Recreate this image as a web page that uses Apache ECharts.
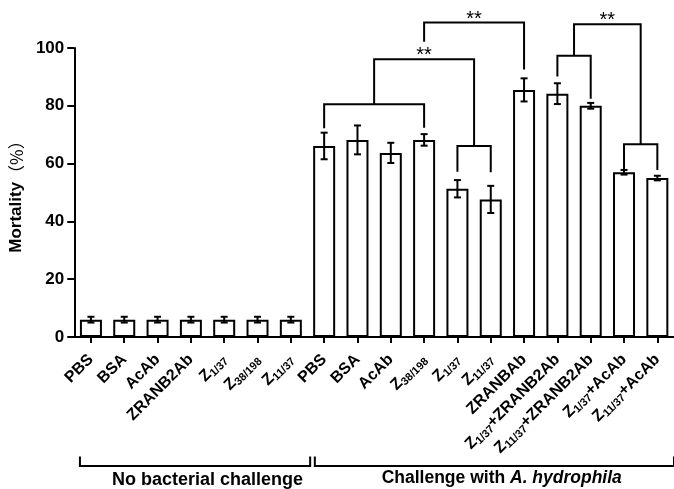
<!DOCTYPE html>
<html><head><meta charset="utf-8">
<script src="https://cdn.jsdelivr.net/npm/echarts@6/dist/echarts.min.js"></script>
<style>html,body{margin:0;padding:0;background:#fff}#c{width:674px;height:489px}</style>
</head><body><div id="c"></div>
<script>
// ---- data ----
const categories = ['PBS','BSA','AcAb','ZRANB2Ab','Z{s|1/37}','Z{s|38/198}','Z{s|11/37}',
  'PBS','BSA','AcAb','Z{s|38/198}','Z{s|1/37}','Z{s|11/37}','ZRANBAb',
  'Z{s|1/37}+ZRANB2Ab','Z{s|11/37}+ZRANB2Ab','Z{s|1/37}+AcAb','Z{s|11/37}+AcAb'];
const mortality = [6,6,6,6,6,6,6, 66.1,68.2,63.7,68.2,51.3,47.6,85.5,84.2,80.0,57.0,55.0];
const errorSD   = [1,1,1,1,1,1,1, 4.6,5.0,3.5,2.0,3.0,4.7,4.0,3.6,1.0,0.8,0.8];
const yTickValues = [0,20,40,60,80,100];
const yAxisName = 'Mortality';
const yAxisUnit = '（%）';
const groupNames = ['No bacterial challenge', 'Challenge with ', 'A. hydrophila'];
const groupRanges = [[0,6],[7,17]];
// significance brackets (values in % units): legs from bar or from a sub-bracket
const sigBrackets = [
  {id:'A', left:{bar:7, from:72.2}, right:{bar:10, from:72.4}, top:80.5},
  {id:'B', left:{bar:11, from:57.2}, right:{bar:12, from:57.0}, top:66.1},
  {id:'C', left:{node:'A'}, right:{node:'B'}, top:96.1, star:'**'},
  {id:'D', left:{node:'C', from:102.2}, right:{bar:13, from:92.6}, top:108.8, star:'**'},
  {id:'E', left:{bar:14, from:90.1}, right:{bar:15, from:82.4}, top:97.3},
  {id:'F', left:{bar:16, from:57.8}, right:{bar:17, from:57.8}, top:66.7},
  {id:'G', left:{node:'E'}, right:{node:'F'}, top:108.2, star:'**'}
];

const FONT = 'Liberation Sans, Arial, sans-serif';
const chart = echarts.init(document.getElementById('c'), null, {renderer:'canvas'});

function renderErrors(params, api) {
  const i = api.value(0), v = api.value(1), e = api.value(2);
  const hi = api.coord([i, v + e]), lo = api.coord([i, v - e]);
  const cap = 3.5;
  const st = {stroke:'#000', lineWidth:2};
  return {type:'group', children:[
    {type:'line', shape:{x1:hi[0], y1:hi[1], x2:lo[0], y2:lo[1]}, style:st},
    {type:'line', shape:{x1:hi[0]-cap, y1:hi[1], x2:hi[0]+cap, y2:hi[1]}, style:st},
    {type:'line', shape:{x1:lo[0]-cap, y1:lo[1], x2:lo[0]+cap, y2:lo[1]}, style:st}
  ]};
}

function renderBrackets(params, api) {
  const children = [];
  const nodes = {};
  const st = {stroke:'#000', lineWidth:2, fill:null, lineJoin:'miter'};
  sigBrackets.forEach(b => {
    const sides = [b.left, b.right].map(s => {
      if (s.bar !== undefined) { const p = api.coord([s.bar, s.from]); return {x:p[0], y:p[1]}; }
      const n = nodes[s.node];
      return {x:n.x, y: s.from !== undefined ? api.coord([0, s.from])[1] : n.y};
    });
    const yTop = api.coord([0, b.top])[1];
    children.push({type:'polyline', shape:{points:[[sides[0].x, sides[0].y],[sides[0].x, yTop],[sides[1].x, yTop],[sides[1].x, sides[1].y]]}, style:st});
    const mid = (sides[0].x + sides[1].x) / 2;
    nodes[b.id] = {x:mid, y:yTop};
    if (b.star) {
      children.push({type:'text', style:{text:b.star, x:mid, y:yTop - 3.5, align:'center', verticalAlign:'middle',
        font:'normal 20px ' + FONT, fill:'#000'}});
    }
  });
  // group brackets under the axis
  const band = api.size([1, 0])[0];
  const y0 = api.coord([0, 0])[1];
  const yLine = y0 + 129, yUp = y0 + 119.5;
  const g0a = api.coord([groupRanges[0][0], 0])[0] - 0.33 * band;
  const g0b = api.coord([groupRanges[0][1], 0])[0] + 0.58 * band;
  const g1a = api.coord([groupRanges[1][0], 0])[0] - 0.28 * band;
  const g1b = api.coord([groupRanges[1][1], 0])[0] + 0.5 * band;
  children.push({type:'polyline', shape:{points:[[g0a,yUp],[g0a,yLine],[g0b,yLine],[g0b,yUp]]}, style:st});
  children.push({type:'polyline', shape:{points:[[g1a,yUp],[g1a,yLine],[g1b,yLine],[g1b,yUp]]}, style:st});
  const t0x = (api.coord([3,0])[0] + api.coord([4,0])[0]) / 2;
  const t1x = api.coord([12,0])[0] + 0.33 * band;
  children.push({type:'text', style:{text:groupNames[0], x:t0x, y:y0 + 143, align:'center', verticalAlign:'middle',
    font:'bold 18px ' + FONT, fill:'#000'}});
  children.push({type:'text', style:{text:'{a|' + groupNames[1] + '}{b|' + groupNames[2] + '}', x:t1x, y:y0 + 141,
    align:'center', verticalAlign:'middle', font:'bold 17.5px ' + FONT, fill:'#000',
    rich:{a:{font:'bold 17.5px ' + FONT, fill:'#000'}, b:{font:'italic bold 17.5px ' + FONT, fill:'#000'}}}});
  return {type:'group', children};
}

const option = {
  animation: false,
  backgroundColor: '#fff',
  grid: {left:67, right:0, top:48, bottom:152, containLabel:false},
  xAxis: {
    type:'category', data: categories,
    axisLine:{show:true, lineStyle:{color:'#000', width:2}},
    axisTick:{show:true, alignWithLabel:true, length:6, lineStyle:{color:'#000', width:2}},
    axisLabel:{rotate:45, margin:20, interval:0, color:'#000', fontFamily:FONT, fontWeight:'bold', fontSize:16,
      rich:{s:{fontSize:11, fontWeight:'bold', fontFamily:FONT, color:'#000', padding:[8,0,0,0]}}},
    splitLine:{show:false}
  },
  yAxis: {
    type:'value', min:0, max:100, interval:20,
    name:'{a|' + yAxisName + '}{b|' + yAxisUnit + '}', nameLocation:'middle', nameGap:40,
    nameTextStyle:{rich:{a:{fontFamily:FONT, fontWeight:'bold', fontSize:17, color:'#000'},
                         b:{fontFamily:'Noto Sans CJK SC', fontSize:17, color:'#000'}}},
    axisLine:{show:true, lineStyle:{color:'#000', width:2}},
    axisTick:{show:true, length:7, lineStyle:{color:'#000', width:2}},
    axisLabel:{margin:10, color:'#000', fontFamily:FONT, fontWeight:'bold', fontSize:17,
      formatter: v => yTickValues.includes(v) ? String(v) : ''},
    splitLine:{show:false}
  },
  series: [
    {type:'bar', data: mortality, barWidth:22,
     itemStyle:{color:'#fff', borderColor:'#000', borderWidth:2}, z:2},
    {type:'custom', data: mortality.map((v,i) => [i, v, errorSD[i]]), renderItem: renderErrors, z:3,
     encode:{x:0, y:1}},
    {type:'custom', data: [[0, 0]], renderItem: renderBrackets, z:4, clip:false, silent:true}
  ]
};
chart.setOption(option);
</script>
</body></html>
